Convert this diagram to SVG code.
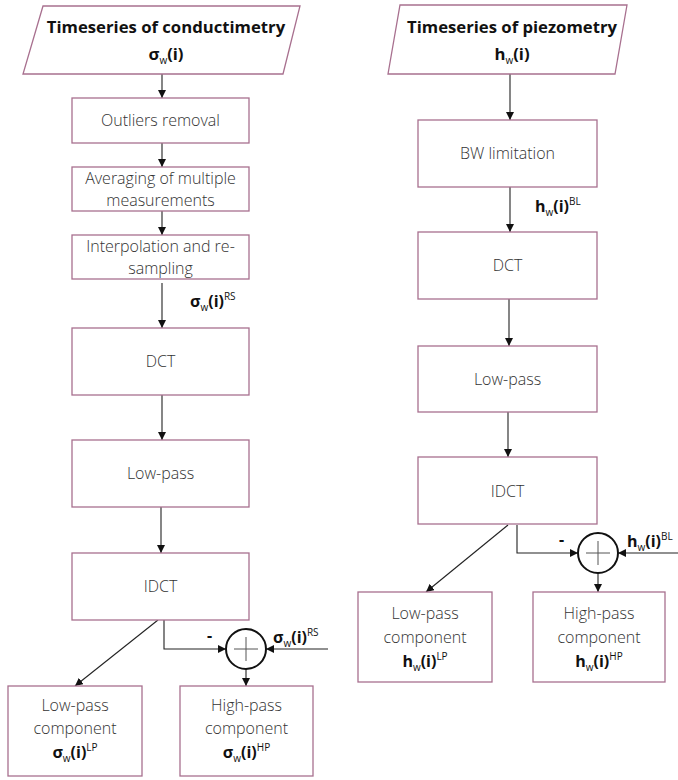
<svg xmlns="http://www.w3.org/2000/svg" width="678" height="780" viewBox="0 0 678 780">
<style>
.box{fill:#fff;stroke:#a8708f;stroke-width:1.3}
.t{font-family:"Open Sans","Liberation Sans",sans-serif;font-size:16px;font-weight:300;fill:#333;text-anchor:middle}
.b{font-family:"Open Sans","Liberation Sans",sans-serif;font-size:16px;font-weight:bold;fill:#111}
.bm{text-anchor:middle}
.c{fill:none;stroke:#222;stroke-width:1.1}
.s{font-size:10px;font-weight:normal}
</style>
<defs>
<marker id="ah" viewBox="0 0 10 10" refX="10" refY="5" markerWidth="8" markerHeight="8" markerUnits="userSpaceOnUse" orient="auto">
<path d="M0,0 L10,5 L0,10 z" fill="#111"/>
</marker>
</defs>
<rect width="678" height="780" fill="#fff"/>

<g id="connectors">
<line class="c" x1="162" y1="74" x2="162" y2="98" marker-end="url(#ah)"/>
<line class="c" x1="162" y1="143" x2="162" y2="167" marker-end="url(#ah)"/>
<line class="c" x1="162" y1="211" x2="162" y2="235" marker-end="url(#ah)"/>
<line class="c" x1="162" y1="283" x2="162" y2="328" marker-end="url(#ah)"/>
<line class="c" x1="162" y1="395" x2="162" y2="440" marker-end="url(#ah)"/>
<line class="c" x1="161" y1="507" x2="161" y2="553" marker-end="url(#ah)"/>
<line class="c" x1="158" y1="620" x2="75" y2="686" marker-end="url(#ah)"/>
<polyline class="c" points="164,620 164,649 226,649" marker-end="url(#ah)"/>
<line class="c" x1="328" y1="649" x2="266" y2="649" marker-end="url(#ah)"/>
<line class="c" x1="246" y1="669" x2="246" y2="686" marker-end="url(#ah)"/>

<line class="c" x1="510" y1="74" x2="510" y2="120" marker-end="url(#ah)"/>
<line class="c" x1="510" y1="187" x2="510" y2="232" marker-end="url(#ah)"/>
<line class="c" x1="509" y1="299" x2="509" y2="346" marker-end="url(#ah)"/>
<line class="c" x1="508" y1="412" x2="508" y2="457" marker-end="url(#ah)"/>
<line class="c" x1="508" y1="525" x2="426" y2="592" marker-end="url(#ah)"/>
<polyline class="c" points="517,525 517,553 578,553" marker-end="url(#ah)"/>
<line class="c" x1="678" y1="553" x2="618" y2="553" marker-end="url(#ah)"/>
<line class="c" x1="598" y1="573" x2="598" y2="592" marker-end="url(#ah)"/>

<text class="b" x="190" y="307">σ<tspan class="s" dy="4">w</tspan><tspan dy="-4">(i)</tspan><tspan class="s" dy="-7">RS</tspan></text>
<text class="b" x="535" y="212">h<tspan class="s" dy="4">w</tspan><tspan dy="-4">(i)</tspan><tspan class="s" dy="-7">BL</tspan></text>
<text class="b" x="273" y="643">σ<tspan class="s" dy="4">w</tspan><tspan dy="-4">(i)</tspan><tspan class="s" dy="-7">RS</tspan></text>
<text class="b" x="627" y="547">h<tspan class="s" dy="4">w</tspan><tspan dy="-4">(i)</tspan><tspan class="s" dy="-7">BL</tspan></text>
<text class="b" x="207" y="641">-</text>
<text class="b" x="559" y="545">-</text>
</g>

<g id="in-conduct">
<polygon class="box" points="43,6 300,6 283,74 23,74"/>
<text class="b bm" x="166" y="33" style="font-size:16.7px">Timeseries of conductimetry</text>
<text class="b bm" x="166" y="60" style="font-size:16.7px">σ<tspan class="s" dy="4">w</tspan><tspan dy="-4">(i)</tspan></text>
</g>
<g id="outliers">
<rect class="box" x="72" y="98" width="177" height="45"/>
<text class="t" x="160.5" y="126">Outliers removal</text>
</g>
<g id="averaging">
<rect class="box" x="72" y="167" width="177" height="44"/>
<text class="t" x="160.5" y="184">Averaging of multiple</text>
<text class="t" x="160.5" y="206">measurements</text>
</g>
<g id="interp">
<rect class="box" x="72" y="235" width="177" height="44"/>
<text class="t" x="160.5" y="252">Interpolation and re-</text>
<text class="t" x="160.5" y="274">sampling</text>
</g>
<g id="dct-l">
<rect class="box" x="72" y="328" width="177" height="67"/>
<text class="t" x="160.5" y="367">DCT</text>
</g>
<g id="lowpass-l">
<rect class="box" x="72" y="440" width="177" height="67"/>
<text class="t" x="160.5" y="479">Low-pass</text>
</g>
<g id="idct-l">
<rect class="box" x="72" y="553" width="177" height="67"/>
<text class="t" x="160.5" y="592">IDCT</text>
</g>
<g id="sum-l">
<circle cx="246" cy="649" r="20" fill="#fff" stroke="#111" stroke-width="2"/>
<path d="M234,649 H258 M246,637 V661" stroke="#555" stroke-width="1" fill="none"/>
</g>
<g id="lp-l">
<rect class="box" x="8" y="686" width="134" height="90"/>
<text class="t" x="75" y="711">Low-pass</text>
<text class="t" x="75" y="734">component</text>
<text class="b bm" x="75" y="758">σ<tspan class="s" dy="4">w</tspan><tspan dy="-4">(i)</tspan><tspan class="s" dy="-7">LP</tspan></text>
</g>
<g id="hp-l">
<rect class="box" x="180" y="686" width="133" height="90"/>
<text class="t" x="246.5" y="711">High-pass</text>
<text class="t" x="246.5" y="734">component</text>
<text class="b bm" x="246.5" y="758">σ<tspan class="s" dy="4">w</tspan><tspan dy="-4">(i)</tspan><tspan class="s" dy="-7">HP</tspan></text>
</g>

<g id="in-piezo">
<polygon class="box" points="400,5 627,5 615,74 388,74"/>
<text class="b bm" x="512" y="33" style="font-size:16.7px">Timeseries of piezometry</text>
<text class="b bm" x="512" y="60" style="font-size:16.7px">h<tspan class="s" dy="4">w</tspan><tspan dy="-4">(i)</tspan></text>
</g>
<g id="bw">
<rect class="box" x="418" y="120" width="179" height="67"/>
<text class="t" x="507.5" y="159">BW limitation</text>
</g>
<g id="dct-r">
<rect class="box" x="418" y="232" width="179" height="67"/>
<text class="t" x="507.5" y="271">DCT</text>
</g>
<g id="lowpass-r">
<rect class="box" x="418" y="346" width="179" height="66"/>
<text class="t" x="507.5" y="385">Low-pass</text>
</g>
<g id="idct-r">
<rect class="box" x="418" y="457" width="179" height="67"/>
<text class="t" x="507.5" y="497">IDCT</text>
</g>
<g id="sum-r">
<circle cx="598" cy="553" r="20" fill="#fff" stroke="#111" stroke-width="2"/>
<path d="M586,553 H610 M598,541 V565" stroke="#555" stroke-width="1" fill="none"/>
</g>
<g id="lp-r">
<rect class="box" x="358" y="592" width="134" height="90"/>
<text class="t" x="425" y="619">Low-pass</text>
<text class="t" x="425" y="643">component</text>
<text class="b bm" x="425" y="667">h<tspan class="s" dy="4">w</tspan><tspan dy="-4">(i)</tspan><tspan class="s" dy="-7">LP</tspan></text>
</g>
<g id="hp-r">
<rect class="box" x="533" y="592" width="132" height="90"/>
<text class="t" x="599" y="619">High-pass</text>
<text class="t" x="599" y="643">component</text>
<text class="b bm" x="599" y="667">h<tspan class="s" dy="4">w</tspan><tspan dy="-4">(i)</tspan><tspan class="s" dy="-7">HP</tspan></text>
</g>
</svg>
